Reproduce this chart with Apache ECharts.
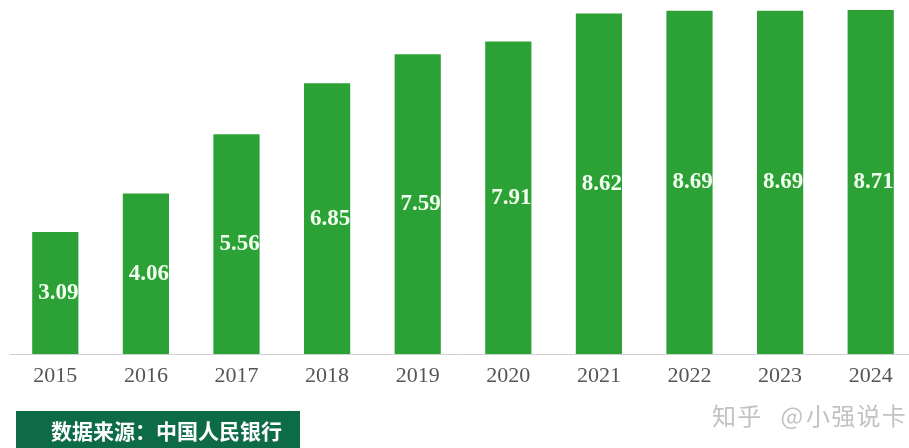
<!DOCTYPE html>
<html><head><meta charset="utf-8">
<script src="https://cdn.jsdelivr.net/npm/echarts@6/dist/echarts.min.js"></script>
<style>html,body{margin:0;padding:0;background:#fff;}#c{width:909px;height:448px;}</style>
</head><body><div id="c"></div>
<script>
const years = ['2015','2016','2017','2018','2019','2020','2021','2022','2023','2024'];
const values = [3.09, 4.06, 5.56, 6.85, 7.59, 7.91, 8.62, 8.69, 8.69, 8.71];
const sourceText = '数据来源：中国人民银行';
const watermark = '知乎 @小强说卡';

const wmChars = [];
let wx = 712;
for (const ch of watermark) {
  if (ch === ' ') { wx += 18; continue; }
  wmChars.push({type: 'text', left: wx, top: 404, silent: true,
    style: {text: ch, fill: '#c2c2c2', font: '24px "Noto Sans CJK SC"'}});
  wx += 25.3;
}

const chart = echarts.init(document.getElementById('c'));
chart.setOption({
  animation: false,
  backgroundColor: '#fff',
  grid: {left: 10, width: 906, top: 0, bottom: 94, outerBoundsMode: 'none', containLabel: false},
  xAxis: {
    type: 'category', data: years,
    axisLine: {lineStyle: {color: '#cfcfcf', width: 1}},
    axisTick: {show: false},
    axisLabel: {color: '#555', fontFamily: 'Liberation Serif', fontSize: 22, margin: 11}
  },
  yAxis: {type: 'value', min: 0, max: 8.96, show: false, splitLine: {show: false}},
  series: [{
    type: 'bar', data: values, barWidth: '51%',
    itemStyle: {color: '#2ca135'},
    label: {show: true, position: 'inside', offset: [3, 0], color: '#f2fff0',
      fontFamily: 'Liberation Serif', fontWeight: 'bold', fontSize: 23}
  }],
  graphic: [
    {type: 'rect', left: 16, top: 411, shape: {width: 284, height: 40}, style: {fill: '#0d6b48'}},
    {type: 'text', left: 51, top: 421, style: {text: sourceText, fill: '#fff', font: 'bold 21px "Noto Sans CJK SC"'}}
  ].concat(wmChars)
});
</script></body></html>
